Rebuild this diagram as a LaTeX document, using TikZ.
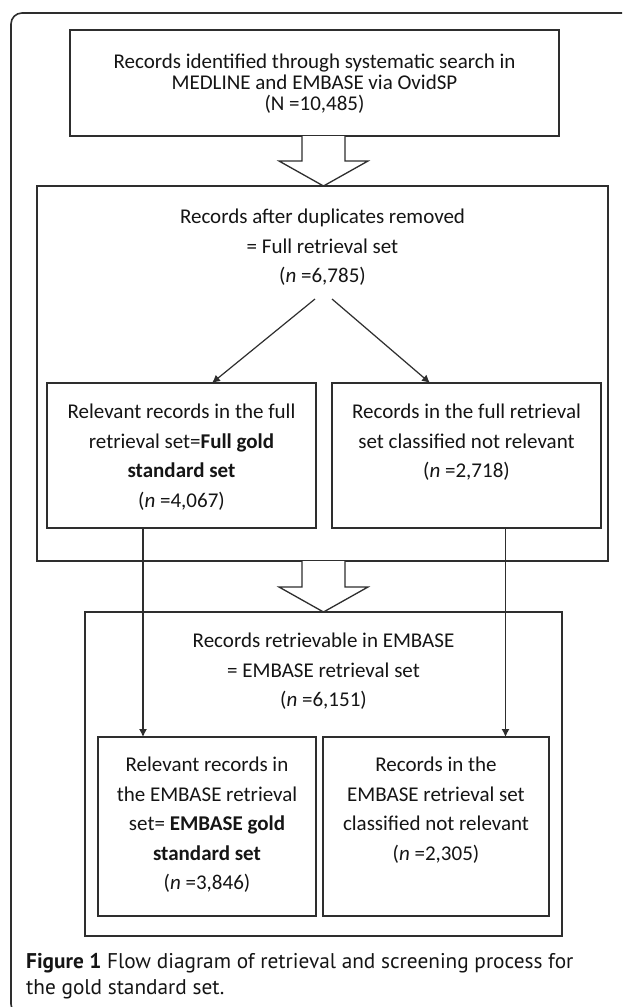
\documentclass[tikz,border=0pt]{standalone}
\usepackage{fontspec}
\setmainfont{Carlito}
\newfontfamily\capfont{PT Sans}
\usetikzlibrary{arrows.meta,calc}
\definecolor{ln}{HTML}{2E2E2E}
\definecolor{tx}{HTML}{151515}
\newcommand{\bodyfs}{\fontsize{21}{29.5}\selectfont\lineskiplimit=-20pt}
\newcommand{\topfs}{\fontsize{21}{21}\selectfont\lineskiplimit=-20pt}
\begin{document}
\begin{tikzpicture}[x=1pt,y=-1pt,
  box/.style={draw=ln,line width=1.3pt,inner sep=0pt,outer sep=0pt,fill=white},
  txt/.style={anchor=north,align=center,inner sep=0pt,text=tx,font=\bodyfs},
  conn/.style={draw=ln,line width=1.2pt,-{Latex[length=8pt,width=8pt]}},
  blk/.style={draw=ln,line width=1.3pt,fill=white,line join=miter},
  frame/.style={draw=ln,line width=1.6pt}]
\useasboundingbox (0,0) rectangle (622,1007);
\fill[white] (0,0) rectangle (622,1007);
% outer frame
\begin{scope}
\clip (0,0) rectangle (622,1007);
\draw[frame,rounded corners=11pt] (660,1015) -- (11,1015) -- (11,13) -- (660,13);
\end{scope}
% boxes
\node[box,minimum width=489pt,minimum height=106pt] (b1) at (314.5,83) {};
\node[box,minimum width=571pt,minimum height=375pt] (b2) at (322.5,373.5) {};
\node[box,minimum width=269pt,minimum height=145pt] (b2a) at (181.5,455.5) {};
\node[box,minimum width=269pt,minimum height=145pt] (b2b) at (466.5,455.5) {};
\node[box,minimum width=477pt,minimum height=324pt] (b3) at (323.5,774) {};
\node[box,minimum width=218pt,minimum height=179pt] (b3a) at (207,826.5) {};
\node[box,minimum width=226pt,minimum height=179pt] (b3b) at (436,826.5) {};
% texts
\node[txt,font=\topfs] (t1) at (314.5,54) {\strut Records identified through systematic search in\\MEDLINE and EMBASE via OvidSP\\(N =10,485)};
\node[txt] (t2) at (322.5,203) {\strut Records after duplicates removed\\= Full retrieval set\\(\textit{n} =6,785)};
\node[txt] (t2a) at (181.5,398) {\strut Relevant records in the full\\retrieval set=\textbf{Full gold}\\\textbf{standard set}\\(\textit{n} =4,067)};
\node[txt] (t2b) at (466.5,398) {\strut Records in the full retrieval\\set classified not relevant\\(\textit{n} =2,718)};
\node[txt] (t3) at (323.5,627) {\strut Records retrievable in EMBASE\\= EMBASE retrieval set\\(\textit{n} =6,151)};
\node[txt] (t3a) at (207,751) {\strut Relevant records in\\the EMBASE retrieval\\set= \textbf{EMBASE gold}\\\textbf{standard set}\\(\textit{n} =3,846)};
\node[txt] (t3b) at (436,751) {\strut Records in the\\EMBASE retrieval set\\classified not relevant\\(\textit{n} =2,305)};
% block arrows
\draw[blk] (302,136) -- (302,161) -- (279,161) -- (323.5,186) -- (368,161) -- (345,161) -- (345,136);
\draw[blk] (302,561) -- (302,587) -- (279,587) -- (323.5,612) -- (368,587) -- (345,587) -- (345,561);
% connectors
\coordinate (d1) at (315,299);
\coordinate (d2) at (332,299);
\draw[conn] (d1) -- ([xshift=30.5pt]b2a.north);
\draw[conn] (d2) -- ([xshift=-36.5pt]b2b.north);
\draw[conn] ([xshift=-38.5pt]b2a.south) -- ([xshift=-64pt]b3a.north);
\draw[conn] ([xshift=39pt]b2b.south) -- ([xshift=69.5pt]b3b.north);
% caption
\node[anchor=north west,align=left,inner sep=0pt,text=tx,font=\capfont\fontsize{21.3}{26}\selectfont] (cap) at (26,950)
  {\strut\textbf{Figure 1} Flow diagram of retrieval and screening process for\\the gold standard set.};
\end{tikzpicture}
\end{document}
